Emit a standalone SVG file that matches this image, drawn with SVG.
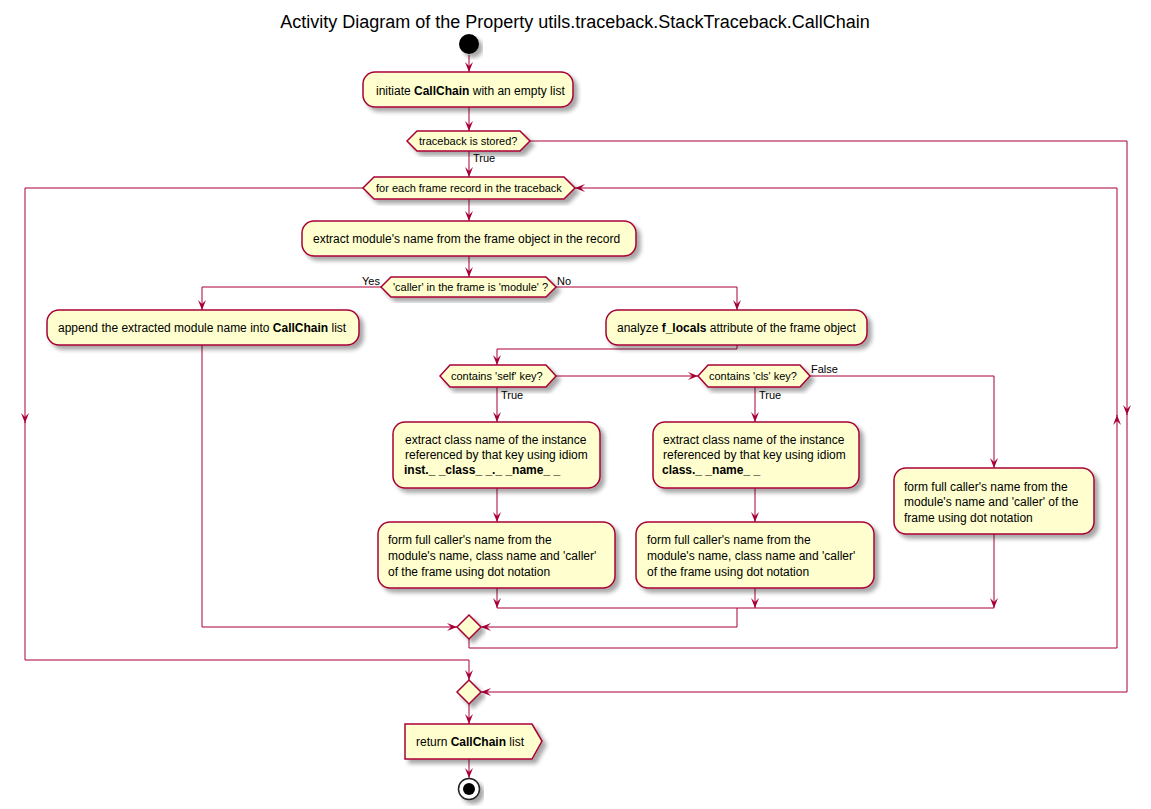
<svg xmlns="http://www.w3.org/2000/svg" width="1151" height="809" viewBox="0 0 1151 809">
<defs>
<filter id="sh" x="-10%" y="-10%" width="130%" height="140%">
<feGaussianBlur in="SourceAlpha" stdDeviation="2"/>
<feOffset dx="4" dy="4" result="b"/>
<feComponentTransfer><feFuncA type="linear" slope="0.35"/></feComponentTransfer>
<feMerge><feMergeNode/><feMergeNode in="SourceGraphic"/></feMerge>
</filter>
<marker id="ah" markerWidth="10" markerHeight="8" refX="10" refY="4" orient="auto" markerUnits="userSpaceOnUse">
<path d="M0,0 L10,4 L0,8 L4,4 Z" fill="#A80036"/>
</marker>
</defs>
<style>
.n{fill:#FEFECE;stroke:#A80036;stroke-width:1.5;filter:url(#sh)}
.t{font-family:"Liberation Sans",Arial,sans-serif;font-size:12px;fill:#000}
.d{font-family:"Liberation Sans",Arial,sans-serif;font-size:11px;fill:#000}
.d text{fill:#000}
.b{font-weight:bold}
.c path{fill:none;stroke:#A80036;stroke-width:1}
</style>
<rect width="1151" height="809" fill="#fff"/>
<text x="575" y="28" text-anchor="middle" font-family="Liberation Sans,Arial,sans-serif" font-size="18">Activity Diagram of the Property utils.traceback.StackTraceback.CallChain</text>

<g id="connectors" class="c">
<path d="M469,55 L469,72" marker-end="url(#ah)"/>
<path d="M469,107 L469,131" marker-end="url(#ah)"/>
<path d="M469,151 L469,177" marker-end="url(#ah)"/>
<path d="M469,199 L469,221" marker-end="url(#ah)"/>
<path d="M469,256 L469,277" marker-end="url(#ah)"/>
<path d="M381,287 L202,287 L202,310" marker-end="url(#ah)"/>
<path d="M556,287 L737,287 L737,310" marker-end="url(#ah)"/>
<path d="M737,345 L737,349 L497,349 L497,365" marker-end="url(#ah)"/>
<path d="M556,376 L698,376" marker-end="url(#ah)"/>
<path d="M810,376 L994,376 L994,468" marker-end="url(#ah)"/>
<path d="M497,387 L497,422" marker-end="url(#ah)"/>
<path d="M755,387 L755,422" marker-end="url(#ah)"/>
<path d="M497,488 L497,522" marker-end="url(#ah)"/>
<path d="M755,488 L755,522" marker-end="url(#ah)"/>
<path d="M497,588 L497,608" marker-end="url(#ah)"/>
<path d="M755,588 L755,608" marker-end="url(#ah)"/>
<path d="M994,534 L994,608" marker-end="url(#ah)"/>
<path d="M497,608 L994,608"/>
<path d="M737,608 L737,627 L481,627" marker-end="url(#ah)"/>
<path d="M202,345 L202,627 L457,627" marker-end="url(#ah)"/>
<path d="M469,639 L469,648 L1117,648 L1117,415" marker-end="url(#ah)"/>
<path d="M1117,416 L1117,188 L575,188" marker-end="url(#ah)"/>
<path d="M363,188 L25,188 L25,423" marker-end="url(#ah)"/>
<path d="M25,422 L25,660 L469,660 L469,680" marker-end="url(#ah)"/>
<path d="M530,141 L1127,141 L1127,415" marker-end="url(#ah)"/>
<path d="M1127,414 L1127,692 L481,692" marker-end="url(#ah)"/>
<path d="M469,704 L469,724" marker-end="url(#ah)"/>
<path d="M469,759 L469,778" marker-end="url(#ah)"/>
</g>
<g class="d">
<text x="473" y="162">True</text>
<text x="362" y="285">Yes</text>
<text x="557" y="285">No</text>
<text x="501" y="399">True</text>
<text x="759" y="399">True</text>
<text x="811" y="373">False</text>
</g>

<g id="start"><circle cx="469" cy="44" r="10" fill="#000" filter="url(#sh)"/></g>

<g id="init">
<rect class="n" x="363" y="72" width="210" height="35" rx="12"/>
<text class="t" x="376" y="95">initiate <tspan class="b">CallChain</tspan> with an empty list</text>
</g>

<g id="stored">
<polygon class="n" points="407,141 417,131 520,131 530,141 520,151 417,151"/>
<text class="d" x="419" y="145">traceback is stored?</text>
</g>

<g id="foreach">
<polygon class="n" points="363,188 374,177 564,177 575,188 564,199 374,199"/>
<text class="d" x="376" y="192">for each frame record in the traceback</text>
</g>

<g id="extract">
<rect class="n" x="302" y="221" width="334" height="35" rx="12"/>
<text class="t" x="313" y="243">extract module's name from the frame object in the record</text>
</g>

<g id="callermodule">
<polygon class="n" points="381,287 391,277 546,277 556,287 546,297 391,297"/>
<text class="d" x="393" y="291">'caller' in the frame is 'module' ?</text>
</g>

<g id="append">
<rect class="n" x="47" y="310" width="312" height="35" rx="12"/>
<text class="t" x="58" y="332">append the extracted module name into <tspan class="b">CallChain</tspan> list</text>
</g>

<g id="analyze">
<rect class="n" x="606" y="310" width="261" height="35" rx="12"/>
<text class="t" x="617" y="332">analyze <tspan class="b">f_locals</tspan> attribute of the frame object</text>
</g>

<g id="selfkey">
<polygon class="n" points="440,376 450,365 546,365 556,376 546,387 450,387"/>
<text class="d" x="451" y="380">contains 'self' key?</text>
</g>

<g id="clskey">
<polygon class="n" points="698,376 708,365 800,365 810,376 800,387 708,387"/>
<text class="d" x="709" y="380">contains 'cls' key?</text>
</g>

<g id="selfextract">
<rect class="n" x="393" y="422" width="207" height="66" rx="12"/>
<text class="t" x="405" y="444">extract class name of the instance</text>
<text class="t" x="405" y="459">referenced by that key using idiom</text>
<text class="t b" x="404" y="474">inst._ _class_ _._ _name_ _</text>
</g>

<g id="selfform">
<rect class="n" x="378" y="522" width="237" height="66" rx="12"/>
<text class="t" x="388" y="544">form full caller's name from the</text>
<text class="t" x="388" y="560">module's name, class name and 'caller'</text>
<text class="t" x="388" y="576">of the frame using dot notation</text>
</g>

<g id="clsextract">
<rect class="n" x="653" y="422" width="206" height="66" rx="12"/>
<text class="t" x="663" y="444">extract class name of the instance</text>
<text class="t" x="663" y="459">referenced by that key using idiom</text>
<text class="t b" x="662" y="474">class._ _name_ _</text>
</g>

<g id="clsform">
<rect class="n" x="636" y="522" width="238" height="66" rx="12"/>
<text class="t" x="647" y="544">form full caller's name from the</text>
<text class="t" x="647" y="560">module's name, class name and 'caller'</text>
<text class="t" x="647" y="576">of the frame using dot notation</text>
</g>

<g id="moduleform">
<rect class="n" x="894" y="468" width="200" height="66" rx="12"/>
<text class="t" x="904" y="491">form full caller's name from the</text>
<text class="t" x="904" y="506">module's name and 'caller' of the</text>
<text class="t" x="904" y="522">frame using dot notation</text>
</g>

<g id="merge1"><polygon class="n" points="469,615 481,627 469,639 457,627"/></g>
<g id="merge2"><polygon class="n" points="469,680 481,692 469,704 457,692"/></g>

<g id="return">
<polygon class="n" points="405,724 532,724 542,741 532,759 405,759"/>
<text class="t" x="416" y="746">return <tspan class="b">CallChain</tspan> list</text>
</g>

<g id="end">
<circle cx="469" cy="789" r="10.5" fill="#fff" stroke="#222" stroke-width="1.5" filter="url(#sh)"/>
<circle cx="469" cy="789" r="6" fill="#000"/>
</g>
</svg>
